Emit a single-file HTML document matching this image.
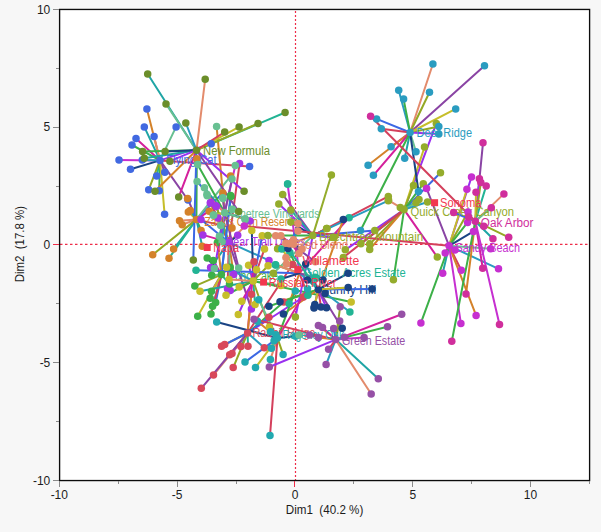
<!DOCTYPE html><html><head><meta charset="utf-8"><title>Dim1 vs Dim2</title>
<style>html,body{margin:0;padding:0;background:#f7f7f7;}body{width:601px;height:532px;overflow:hidden;font-family:"Liberation Sans",sans-serif;}svg{display:block}text{font-family:"Liberation Sans",sans-serif;}.ax{font-size:12px;fill:#1c1c1c}.lb{font-size:12px}</style></head><body>
<svg width="601" height="532" viewBox="0 0 601 532">
<rect x="0" y="0" width="601" height="532" fill="#f7f7f7"/>
<rect x="59.5" y="9.5" width="530" height="471" fill="#ffffff" stroke="none"/>
<g stroke="#ee2c48" stroke-width="1.2"><line x1="295.5" y1="10.9" x2="295.5" y2="480" stroke-dasharray="2 2"/><line x1="60" y1="244.45" x2="589" y2="244.45" stroke-dasharray="2.5 2.5"/></g>
<g class="lb">
<text x="321.0" y="294.2" fill="#1A4384" textLength="55.3" lengthAdjust="spacingAndGlyphs">Sunny Hill</text>
<text x="228.0" y="279.5" fill="#3CB048" textLength="50.0" lengthAdjust="spacingAndGlyphs">Echo Lake</text>
</g>
<g stroke-width="2.00" stroke-linecap="round" fill="none">
<line x1="160.0" y1="160.4" x2="146.9" y2="109.1" stroke="#D4822A"/>
<line x1="160.0" y1="160.4" x2="144.3" y2="126.9" stroke="#1FA5A5"/>
<line x1="160.0" y1="160.4" x2="176.1" y2="126.9" stroke="#68C092"/>
<line x1="160.0" y1="160.4" x2="154.1" y2="136.6" stroke="#E38B6C"/>
<line x1="160.0" y1="160.4" x2="136.0" y2="138.4" stroke="#D4209C"/>
<line x1="160.0" y1="160.4" x2="132.0" y2="145.0" stroke="#3CB048"/>
<line x1="160.0" y1="160.4" x2="119.0" y2="160.0" stroke="#C62FD0"/>
<line x1="160.0" y1="160.4" x2="130.5" y2="169.3" stroke="#1A4384"/>
<line x1="160.0" y1="160.4" x2="142.3" y2="160.0" stroke="#2A9CC0"/>
<line x1="160.0" y1="160.4" x2="164.8" y2="172.2" stroke="#8A44A4"/>
<line x1="160.0" y1="160.4" x2="156.7" y2="176.1" stroke="#22B494"/>
<line x1="160.0" y1="160.4" x2="148.7" y2="189.7" stroke="#94A824"/>
<line x1="160.0" y1="160.4" x2="159.2" y2="190.8" stroke="#3CB048"/>
<line x1="160.0" y1="160.4" x2="164.6" y2="214.2" stroke="#C6BE2A"/>
<line x1="160.0" y1="160.4" x2="211.2" y2="143.8" stroke="#9A30F0"/>
<line x1="160.0" y1="160.4" x2="249.6" y2="166.6" stroke="#D4405C"/>
<line x1="160.0" y1="160.4" x2="188.0" y2="200.0" stroke="#8A44A4"/>
<line x1="196.4" y1="219.4" x2="196.8" y2="158.7" stroke="#3CB048"/>
<line x1="196.4" y1="219.4" x2="187.6" y2="198.4" stroke="#8A44A4"/>
<line x1="196.4" y1="219.4" x2="188.3" y2="211.9" stroke="#C6BE2A"/>
<line x1="196.4" y1="219.4" x2="190.3" y2="210.6" stroke="#1FA5A5"/>
<line x1="196.4" y1="219.4" x2="179.5" y2="220.7" stroke="#E38B6C"/>
<line x1="196.4" y1="219.4" x2="182.2" y2="224.8" stroke="#E38B6C"/>
<line x1="196.4" y1="219.4" x2="209.2" y2="211.2" stroke="#D4209C"/>
<line x1="196.4" y1="219.4" x2="201.1" y2="230.5" stroke="#3CB048"/>
<line x1="196.4" y1="219.4" x2="202.2" y2="246.2" stroke="#1FA5A5"/>
<line x1="196.4" y1="219.4" x2="173.6" y2="249.0" stroke="#1FA5A5"/>
<line x1="196.4" y1="219.4" x2="169.0" y2="258.2" stroke="#22B494"/>
<line x1="196.4" y1="219.4" x2="232.0" y2="227.9" stroke="#D4405C"/>
<line x1="196.4" y1="219.4" x2="222.8" y2="193.0" stroke="#3C68E4"/>
<line x1="196.4" y1="219.4" x2="230.6" y2="176.1" stroke="#68C092"/>
<line x1="196.4" y1="219.4" x2="152.7" y2="254.7" stroke="#94A824"/>
<line x1="228.9" y1="242.4" x2="239.6" y2="163.4" stroke="#D4405C"/>
<line x1="228.9" y1="242.4" x2="210.3" y2="203.0" stroke="#94A824"/>
<line x1="228.9" y1="242.4" x2="216.2" y2="206.4" stroke="#3CB048"/>
<line x1="228.9" y1="242.4" x2="201.0" y2="219.6" stroke="#3C68E4"/>
<line x1="228.9" y1="242.4" x2="218.0" y2="218.0" stroke="#C6BE2A"/>
<line x1="228.9" y1="242.4" x2="250.0" y2="221.0" stroke="#E38B6C"/>
<line x1="228.9" y1="242.4" x2="210.6" y2="202.4" stroke="#D4405C"/>
<line x1="228.9" y1="242.4" x2="216.0" y2="205.8" stroke="#94A824"/>
<line x1="228.9" y1="242.4" x2="202.9" y2="234.9" stroke="#D4209C"/>
<line x1="228.9" y1="242.4" x2="237.7" y2="235.2" stroke="#1A4384"/>
<line x1="228.9" y1="242.4" x2="210.6" y2="267.4" stroke="#1FA5A5"/>
<line x1="228.9" y1="242.4" x2="233.6" y2="274.4" stroke="#D4822A"/>
<line x1="228.9" y1="242.4" x2="227.5" y2="288.8" stroke="#D4405C"/>
<line x1="228.9" y1="242.4" x2="230.2" y2="290.5" stroke="#68C092"/>
<line x1="228.9" y1="242.4" x2="269.0" y2="260.4" stroke="#2A9CC0"/>
<line x1="228.9" y1="242.4" x2="251.4" y2="309.1" stroke="#8A44A4"/>
<line x1="221.4" y1="274.6" x2="230.6" y2="195.6" stroke="#1FA5A5"/>
<line x1="221.4" y1="274.6" x2="230.9" y2="196.4" stroke="#3C68E4"/>
<line x1="221.4" y1="274.6" x2="207.2" y2="258.0" stroke="#1A4384"/>
<line x1="221.4" y1="274.6" x2="213.3" y2="260.4" stroke="#D4209C"/>
<line x1="221.4" y1="274.6" x2="217.4" y2="242.4" stroke="#D4822A"/>
<line x1="221.4" y1="274.6" x2="211.7" y2="275.3" stroke="#68C092"/>
<line x1="221.4" y1="274.6" x2="194.8" y2="286.1" stroke="#94A824"/>
<line x1="221.4" y1="274.6" x2="211.5" y2="291.3" stroke="#8A44A4"/>
<line x1="221.4" y1="274.6" x2="210.2" y2="298.3" stroke="#E38B6C"/>
<line x1="221.4" y1="274.6" x2="215.7" y2="302.4" stroke="#3C68E4"/>
<line x1="221.4" y1="274.6" x2="212.6" y2="306.2" stroke="#2A9CC0"/>
<line x1="221.4" y1="274.6" x2="211.0" y2="313.9" stroke="#D4405C"/>
<line x1="221.4" y1="274.6" x2="197.7" y2="316.3" stroke="#C6BE2A"/>
<line x1="221.4" y1="274.6" x2="230.2" y2="267.2" stroke="#D4209C"/>
<line x1="221.4" y1="274.6" x2="229.5" y2="284.1" stroke="#22B494"/>
<line x1="253.2" y1="281.0" x2="251.8" y2="230.5" stroke="#1A4384"/>
<line x1="253.2" y1="281.0" x2="262.2" y2="235.7" stroke="#3C68E4"/>
<line x1="253.2" y1="281.0" x2="264.5" y2="248.9" stroke="#D4405C"/>
<line x1="253.2" y1="281.0" x2="248.6" y2="265.2" stroke="#9A30F0"/>
<line x1="253.2" y1="281.0" x2="256.5" y2="269.8" stroke="#8A44A4"/>
<line x1="253.2" y1="281.0" x2="268.1" y2="265.7" stroke="#94A824"/>
<line x1="253.2" y1="281.0" x2="200.0" y2="291.3" stroke="#1FA5A5"/>
<line x1="253.2" y1="281.0" x2="226.5" y2="267.3" stroke="#2A9CC0"/>
<line x1="253.2" y1="281.0" x2="229.1" y2="279.4" stroke="#E38B6C"/>
<line x1="253.2" y1="281.0" x2="239.2" y2="287.1" stroke="#D4822A"/>
<line x1="253.2" y1="281.0" x2="226.0" y2="295.2" stroke="#3CB048"/>
<line x1="253.2" y1="281.0" x2="241.8" y2="301.3" stroke="#D4209C"/>
<line x1="253.2" y1="281.0" x2="238.3" y2="314.5" stroke="#9A30F0"/>
<line x1="253.2" y1="281.0" x2="255.1" y2="304.4" stroke="#22B494"/>
<line x1="253.2" y1="281.0" x2="280.8" y2="285.5" stroke="#68C092"/>
<line x1="253.2" y1="281.0" x2="269.4" y2="327.0" stroke="#94A824"/>
<line x1="253.2" y1="281.0" x2="351.2" y2="302.1" stroke="#3CB048"/>
<line x1="224.7" y1="212.8" x2="216.6" y2="126.4" stroke="#D4822A"/>
<line x1="224.7" y1="212.8" x2="197.6" y2="164.6" stroke="#3CB048"/>
<line x1="224.7" y1="212.8" x2="197.1" y2="181.5" stroke="#3C68E4"/>
<line x1="224.7" y1="212.8" x2="204.4" y2="187.8" stroke="#1FA5A5"/>
<line x1="224.7" y1="212.8" x2="206.9" y2="194.2" stroke="#D4209C"/>
<line x1="224.7" y1="212.8" x2="235.3" y2="165.5" stroke="#C62FD0"/>
<line x1="224.7" y1="212.8" x2="232.0" y2="179.0" stroke="#8A44A4"/>
<line x1="224.7" y1="212.8" x2="223.0" y2="198.5" stroke="#C6BE2A"/>
<line x1="224.7" y1="212.8" x2="232.3" y2="209.5" stroke="#3CB048"/>
<line x1="224.7" y1="212.8" x2="213.7" y2="214.9" stroke="#94A824"/>
<line x1="224.7" y1="212.8" x2="245.0" y2="218.8" stroke="#1A4384"/>
<line x1="224.7" y1="212.8" x2="207.2" y2="195.7" stroke="#E38B6C"/>
<line x1="224.7" y1="212.8" x2="222.8" y2="197.7" stroke="#8A44A4"/>
<line x1="224.7" y1="212.8" x2="213.3" y2="215.3" stroke="#C6BE2A"/>
<line x1="224.7" y1="212.8" x2="232.2" y2="209.2" stroke="#D4822A"/>
<line x1="224.7" y1="212.8" x2="220.7" y2="225.4" stroke="#E38B6C"/>
<line x1="224.7" y1="212.8" x2="219.4" y2="236.3" stroke="#22B494"/>
<line x1="224.7" y1="212.8" x2="222.1" y2="241.7" stroke="#2A9CC0"/>
<line x1="224.7" y1="212.8" x2="245.1" y2="219.4" stroke="#68C092"/>
<line x1="224.7" y1="212.8" x2="214.4" y2="268.5" stroke="#9A30F0"/>
<line x1="224.7" y1="212.8" x2="238.7" y2="268.1" stroke="#8A44A4"/>
<line x1="196.5" y1="150.2" x2="147.7" y2="74.0" stroke="#1FA5A5"/>
<line x1="196.5" y1="150.2" x2="166.0" y2="103.9" stroke="#68C092"/>
<line x1="196.5" y1="150.2" x2="185.8" y2="123.0" stroke="#2A9CC0"/>
<line x1="196.5" y1="150.2" x2="205.2" y2="79.2" stroke="#E38B6C"/>
<line x1="196.5" y1="150.2" x2="285.1" y2="112.5" stroke="#22B494"/>
<line x1="196.5" y1="150.2" x2="258.0" y2="123.5" stroke="#94A824"/>
<line x1="196.5" y1="150.2" x2="239.1" y2="126.9" stroke="#C6BE2A"/>
<line x1="196.5" y1="150.2" x2="224.7" y2="132.0" stroke="#D4405C"/>
<line x1="196.5" y1="150.2" x2="142.6" y2="151.4" stroke="#3CB048"/>
<line x1="196.5" y1="150.2" x2="144.3" y2="158.2" stroke="#1FA5A5"/>
<line x1="196.5" y1="150.2" x2="165.1" y2="151.4" stroke="#1A4384"/>
<line x1="196.5" y1="150.2" x2="169.9" y2="161.2" stroke="#9A30F0"/>
<line x1="196.5" y1="150.2" x2="155.0" y2="191.3" stroke="#D4822A"/>
<line x1="196.5" y1="150.2" x2="178.7" y2="197.1" stroke="#D4209C"/>
<line x1="196.5" y1="150.2" x2="244.1" y2="191.2" stroke="#9A30F0"/>
<line x1="196.5" y1="150.2" x2="193.3" y2="260.1" stroke="#3C68E4"/>
<line x1="196.5" y1="150.2" x2="238.7" y2="211.6" stroke="#8A44A4"/>
<line x1="312.8" y1="235.6" x2="282.7" y2="194.5" stroke="#8A44A4"/>
<line x1="312.8" y1="235.6" x2="278.8" y2="204.1" stroke="#9A30F0"/>
<line x1="312.8" y1="235.6" x2="290.8" y2="209.9" stroke="#1FA5A5"/>
<line x1="312.8" y1="235.6" x2="290.8" y2="222.1" stroke="#1A4384"/>
<line x1="312.8" y1="235.6" x2="267.9" y2="235.6" stroke="#3CB048"/>
<line x1="312.8" y1="235.6" x2="277.6" y2="248.8" stroke="#D4822A"/>
<line x1="312.8" y1="235.6" x2="326.6" y2="228.5" stroke="#E38B6C"/>
<line x1="312.8" y1="235.6" x2="333.9" y2="237.3" stroke="#3C68E4"/>
<line x1="312.8" y1="235.6" x2="327.0" y2="228.6" stroke="#1A4384"/>
<line x1="312.8" y1="235.6" x2="333.1" y2="237.6" stroke="#9A30F0"/>
<line x1="312.8" y1="235.6" x2="374.8" y2="230.5" stroke="#3C68E4"/>
<line x1="312.8" y1="235.6" x2="388.3" y2="196.4" stroke="#D4405C"/>
<line x1="312.8" y1="235.6" x2="388.3" y2="200.7" stroke="#2A9CC0"/>
<line x1="312.8" y1="235.6" x2="331.4" y2="175.0" stroke="#94AC2C"/>
<line x1="312.8" y1="235.6" x2="273.3" y2="273.3" stroke="#68C092"/>
<line x1="312.8" y1="235.6" x2="295.4" y2="317.1" stroke="#9A30F0"/>
<line x1="404.1" y1="209.6" x2="436.3" y2="123.6" stroke="#9A30F0"/>
<line x1="404.1" y1="209.6" x2="424.5" y2="147.0" stroke="#C6BE2A"/>
<line x1="404.1" y1="209.6" x2="440.5" y2="172.7" stroke="#3C68E4"/>
<line x1="404.1" y1="209.6" x2="413.5" y2="185.6" stroke="#94A824"/>
<line x1="404.1" y1="209.6" x2="423.3" y2="183.7" stroke="#3CB048"/>
<line x1="404.1" y1="209.6" x2="419.0" y2="199.5" stroke="#1FA5A5"/>
<line x1="404.1" y1="209.6" x2="416.0" y2="202.8" stroke="#68C092"/>
<line x1="404.1" y1="209.6" x2="427.5" y2="202.0" stroke="#2A9CC0"/>
<line x1="404.1" y1="209.6" x2="400.3" y2="207.4" stroke="#22B494"/>
<line x1="404.1" y1="209.6" x2="388.6" y2="200.3" stroke="#E38B6C"/>
<line x1="404.1" y1="209.6" x2="437.3" y2="257.1" stroke="#D4209C"/>
<line x1="404.1" y1="209.6" x2="345.3" y2="249.8" stroke="#9A30F0"/>
<line x1="404.1" y1="209.6" x2="369.7" y2="244.0" stroke="#94A824"/>
<line x1="404.1" y1="209.6" x2="369.7" y2="249.4" stroke="#D4822A"/>
<line x1="404.1" y1="209.6" x2="360.9" y2="243.7" stroke="#3CB048"/>
<line x1="404.1" y1="209.6" x2="343.3" y2="257.5" stroke="#D4405C"/>
<line x1="404.1" y1="209.6" x2="393.4" y2="279.8" stroke="#3CB048"/>
<line x1="410.1" y1="132.5" x2="432.9" y2="64.0" stroke="#E38B6C"/>
<line x1="410.1" y1="132.5" x2="398.7" y2="90.3" stroke="#2A9CC0"/>
<line x1="410.1" y1="132.5" x2="403.6" y2="99.1" stroke="#3CB048"/>
<line x1="410.1" y1="132.5" x2="429.5" y2="92.3" stroke="#94A824"/>
<line x1="410.1" y1="132.5" x2="376.6" y2="118.9" stroke="#3C68E4"/>
<line x1="410.1" y1="132.5" x2="381.3" y2="128.7" stroke="#D4405C"/>
<line x1="410.1" y1="132.5" x2="438.8" y2="126.5" stroke="#94A824"/>
<line x1="410.1" y1="132.5" x2="438.8" y2="134.1" stroke="#9A30F0"/>
<line x1="410.1" y1="132.5" x2="484.5" y2="65.7" stroke="#8A44A4"/>
<line x1="410.1" y1="132.5" x2="455.7" y2="108.9" stroke="#C6BE2A"/>
<line x1="410.1" y1="132.5" x2="391.1" y2="146.7" stroke="#D4209C"/>
<line x1="410.1" y1="132.5" x2="368.1" y2="165.3" stroke="#D4822A"/>
<line x1="410.1" y1="132.5" x2="373.4" y2="175.3" stroke="#D4209C"/>
<line x1="410.1" y1="132.5" x2="404.7" y2="158.3" stroke="#1FA5A5"/>
<line x1="410.1" y1="132.5" x2="416.0" y2="151.7" stroke="#68C092"/>
<line x1="410.1" y1="132.5" x2="418.5" y2="191.5" stroke="#1A4384"/>
<line x1="410.1" y1="132.5" x2="360.5" y2="230.5" stroke="#3CB048"/>
<line x1="449.1" y1="245.8" x2="471.5" y2="177.1" stroke="#9A30F0"/>
<line x1="449.1" y1="245.8" x2="466.9" y2="189.3" stroke="#C6BE2A"/>
<line x1="449.1" y1="245.8" x2="426.6" y2="188.5" stroke="#8A44A4"/>
<line x1="449.1" y1="245.8" x2="468.0" y2="212.0" stroke="#94A824"/>
<line x1="449.1" y1="245.8" x2="467.6" y2="222.4" stroke="#3CB048"/>
<line x1="449.1" y1="245.8" x2="473.5" y2="231.4" stroke="#1A4384"/>
<line x1="449.1" y1="245.8" x2="490.6" y2="248.8" stroke="#68C092"/>
<line x1="449.1" y1="245.8" x2="455.0" y2="250.0" stroke="#1FA5A5"/>
<line x1="449.1" y1="245.8" x2="445.2" y2="252.9" stroke="#D4405C"/>
<line x1="449.1" y1="245.8" x2="498.5" y2="268.8" stroke="#2A9CC0"/>
<line x1="449.1" y1="245.8" x2="461.3" y2="270.3" stroke="#D4405C"/>
<line x1="449.1" y1="245.8" x2="442.7" y2="273.2" stroke="#1FA5A5"/>
<line x1="449.1" y1="245.8" x2="476.1" y2="315.4" stroke="#D4822A"/>
<line x1="449.1" y1="245.8" x2="420.9" y2="322.9" stroke="#3CB048"/>
<line x1="449.1" y1="245.8" x2="460.9" y2="323.6" stroke="#C62FD0"/>
<line x1="449.1" y1="245.8" x2="244.2" y2="226.1" stroke="#D4405C"/>
<line x1="475.3" y1="221.2" x2="370.6" y2="116.3" stroke="#D4405C"/>
<line x1="475.3" y1="221.2" x2="483.0" y2="142.8" stroke="#8A44A4"/>
<line x1="475.3" y1="221.2" x2="479.4" y2="178.8" stroke="#9A30F0"/>
<line x1="475.3" y1="221.2" x2="480.8" y2="182.5" stroke="#94A824"/>
<line x1="475.3" y1="221.2" x2="486.2" y2="185.9" stroke="#22B494"/>
<line x1="475.3" y1="221.2" x2="476.0" y2="192.3" stroke="#C6BE2A"/>
<line x1="475.3" y1="221.2" x2="503.9" y2="193.9" stroke="#E38B6C"/>
<line x1="475.3" y1="221.2" x2="491.3" y2="207.8" stroke="#68C092"/>
<line x1="475.3" y1="221.2" x2="453.7" y2="212.5" stroke="#3C68E4"/>
<line x1="475.3" y1="221.2" x2="468.6" y2="217.0" stroke="#94A824"/>
<line x1="475.3" y1="221.2" x2="483.8" y2="226.3" stroke="#2A9CC0"/>
<line x1="475.3" y1="221.2" x2="492.9" y2="238.7" stroke="#1FA5A5"/>
<line x1="475.3" y1="221.2" x2="508.7" y2="237.3" stroke="#94A824"/>
<line x1="475.3" y1="221.2" x2="482.7" y2="268.2" stroke="#D4209C"/>
<line x1="475.3" y1="221.2" x2="466.0" y2="294.1" stroke="#D4822A"/>
<line x1="475.3" y1="221.2" x2="499.5" y2="324.6" stroke="#C62FD0"/>
<line x1="475.3" y1="221.2" x2="451.8" y2="341.2" stroke="#3CB048"/>
<line x1="247.6" y1="333.0" x2="221.6" y2="346.2" stroke="#94A824"/>
<line x1="247.6" y1="333.0" x2="224.7" y2="344.6" stroke="#3C68E4"/>
<line x1="247.6" y1="333.0" x2="229.7" y2="354.8" stroke="#E38B6C"/>
<line x1="247.6" y1="333.0" x2="232.0" y2="353.5" stroke="#D4209C"/>
<line x1="247.6" y1="333.0" x2="240.9" y2="346.6" stroke="#1FA5A5"/>
<line x1="247.6" y1="333.0" x2="248.0" y2="346.2" stroke="#22B494"/>
<line x1="247.6" y1="333.0" x2="233.2" y2="367.6" stroke="#94A824"/>
<line x1="247.6" y1="333.0" x2="213.5" y2="375.1" stroke="#E38B6C"/>
<line x1="247.6" y1="333.0" x2="201.3" y2="388.3" stroke="#8A44A4"/>
<line x1="247.6" y1="333.0" x2="264.3" y2="347.7" stroke="#2A9CC0"/>
<line x1="247.6" y1="333.0" x2="254.0" y2="261.8" stroke="#D4209C"/>
<line x1="247.6" y1="333.0" x2="292.6" y2="264.5" stroke="#D4405C"/>
<line x1="247.6" y1="333.0" x2="251.4" y2="294.2" stroke="#D4822A"/>
<line x1="247.6" y1="333.0" x2="283.8" y2="302.1" stroke="#3CB048"/>
<line x1="247.6" y1="333.0" x2="303.5" y2="297.0" stroke="#9A30F0"/>
<line x1="247.6" y1="333.0" x2="268.9" y2="317.2" stroke="#3C68E4"/>
<line x1="299.3" y1="273.2" x2="287.6" y2="184.0" stroke="#C62FD0"/>
<line x1="299.3" y1="273.2" x2="196.0" y2="270.2" stroke="#3C68E4"/>
<line x1="299.3" y1="273.2" x2="275.4" y2="264.7" stroke="#94A824"/>
<line x1="299.3" y1="273.2" x2="307.9" y2="295.2" stroke="#D4405C"/>
<line x1="299.3" y1="273.2" x2="289.2" y2="303.7" stroke="#D4822A"/>
<line x1="299.3" y1="273.2" x2="315.0" y2="277.3" stroke="#68C092"/>
<line x1="299.3" y1="273.2" x2="349.1" y2="217.7" stroke="#D4209C"/>
<line x1="299.3" y1="273.2" x2="349.9" y2="312.0" stroke="#2A9CC0"/>
<line x1="299.3" y1="273.2" x2="281.8" y2="248.9" stroke="#C6BE2A"/>
<line x1="299.3" y1="273.2" x2="275.7" y2="265.1" stroke="#E38B6C"/>
<line x1="299.3" y1="273.2" x2="316.5" y2="278.1" stroke="#8A44A4"/>
<line x1="299.3" y1="273.2" x2="289.9" y2="252.5" stroke="#3CB048"/>
<line x1="299.3" y1="273.2" x2="281.0" y2="279.0" stroke="#1A4384"/>
<line x1="318.3" y1="289.5" x2="343.3" y2="219.4" stroke="#D4822A"/>
<line x1="318.3" y1="289.5" x2="307.5" y2="280.0" stroke="#1FA5A5"/>
<line x1="318.3" y1="289.5" x2="323.0" y2="280.0" stroke="#68C092"/>
<line x1="318.3" y1="289.5" x2="325.1" y2="293.6" stroke="#E38B6C"/>
<line x1="318.3" y1="289.5" x2="280.0" y2="301.7" stroke="#94A824"/>
<line x1="318.3" y1="289.5" x2="268.9" y2="306.2" stroke="#3CB048"/>
<line x1="318.3" y1="289.5" x2="314.3" y2="307.1" stroke="#E38B6C"/>
<line x1="318.3" y1="289.5" x2="321.0" y2="307.1" stroke="#D4405C"/>
<line x1="318.3" y1="289.5" x2="326.5" y2="307.8" stroke="#9A30F0"/>
<line x1="318.3" y1="289.5" x2="314.0" y2="308.1" stroke="#8A44A4"/>
<line x1="318.3" y1="289.5" x2="314.8" y2="304.5" stroke="#C6BE2A"/>
<line x1="318.3" y1="289.5" x2="342.2" y2="328.2" stroke="#8A44A4"/>
<line x1="318.3" y1="289.5" x2="372.1" y2="289.1" stroke="#3C68E4"/>
<line x1="318.3" y1="289.5" x2="348.1" y2="273.3" stroke="#1A4384"/>
<line x1="318.3" y1="289.5" x2="348.2" y2="287.5" stroke="#C6BE2A"/>
<line x1="318.3" y1="289.5" x2="287.9" y2="248.6" stroke="#22B494"/>
<line x1="318.3" y1="289.5" x2="305.7" y2="264.1" stroke="#2A9CC0"/>
<line x1="318.3" y1="289.5" x2="283.4" y2="314.0" stroke="#D4822A"/>
<line x1="277.5" y1="338.1" x2="245.0" y2="362.1" stroke="#3C68E4"/>
<line x1="277.5" y1="338.1" x2="255.5" y2="367.6" stroke="#C6BE2A"/>
<line x1="277.5" y1="338.1" x2="271.4" y2="348.3" stroke="#68C092"/>
<line x1="277.5" y1="338.1" x2="270.4" y2="359.4" stroke="#E38B6C"/>
<line x1="277.5" y1="338.1" x2="283.1" y2="354.4" stroke="#94A824"/>
<line x1="277.5" y1="338.1" x2="270.0" y2="435.6" stroke="#D4405C"/>
<line x1="277.5" y1="338.1" x2="216.7" y2="322.0" stroke="#1A4384"/>
<line x1="277.5" y1="338.1" x2="295.3" y2="290.9" stroke="#3CB048"/>
<line x1="277.5" y1="338.1" x2="258.8" y2="299.7" stroke="#68C092"/>
<line x1="277.5" y1="338.1" x2="307.5" y2="288.8" stroke="#D4209C"/>
<line x1="277.5" y1="338.1" x2="257.4" y2="321.3" stroke="#D4822A"/>
<line x1="277.5" y1="338.1" x2="295.6" y2="336.3" stroke="#1A4384"/>
<line x1="277.5" y1="338.1" x2="270.5" y2="331.8" stroke="#9A30F0"/>
<line x1="277.5" y1="338.1" x2="275.9" y2="334.8" stroke="#2A9CC0"/>
<line x1="277.5" y1="338.1" x2="274.1" y2="340.7" stroke="#22B494"/>
<line x1="335.7" y1="339.6" x2="401.7" y2="314.2" stroke="#D4209C"/>
<line x1="335.7" y1="339.6" x2="387.5" y2="326.8" stroke="#3CB048"/>
<line x1="335.7" y1="339.6" x2="364.1" y2="337.6" stroke="#C62FD0"/>
<line x1="335.7" y1="339.6" x2="344.4" y2="337.2" stroke="#1FA5A5"/>
<line x1="335.7" y1="339.6" x2="378.3" y2="378.8" stroke="#1FA5A5"/>
<line x1="335.7" y1="339.6" x2="371.2" y2="394.0" stroke="#E38B6C"/>
<line x1="335.7" y1="339.6" x2="326.1" y2="364.6" stroke="#2A9CC0"/>
<line x1="335.7" y1="339.6" x2="328.6" y2="349.3" stroke="#D4405C"/>
<line x1="335.7" y1="339.6" x2="340.2" y2="306.7" stroke="#94A824"/>
<line x1="335.7" y1="339.6" x2="339.7" y2="320.9" stroke="#94A824"/>
<line x1="335.7" y1="339.6" x2="333.7" y2="328.4" stroke="#3C68E4"/>
<line x1="335.7" y1="339.6" x2="318.4" y2="325.4" stroke="#C6BE2A"/>
<line x1="335.7" y1="339.6" x2="322.5" y2="327.4" stroke="#D4209C"/>
<line x1="335.7" y1="339.6" x2="309.7" y2="334.9" stroke="#D4405C"/>
<line x1="335.7" y1="339.6" x2="318.4" y2="337.6" stroke="#D4822A"/>
<line x1="335.7" y1="339.6" x2="269.3" y2="367.0" stroke="#9A30F0"/>
<line x1="335.7" y1="339.6" x2="254.0" y2="319.3" stroke="#D4405C"/>
<line x1="291.0" y1="243.6" x2="298.0" y2="223.5" stroke="#3C68E4"/>
<line x1="291.0" y1="243.6" x2="298.0" y2="231.1" stroke="#1FA5A5"/>
<line x1="291.0" y1="243.6" x2="275.7" y2="235.7" stroke="#3CB048"/>
<line x1="291.0" y1="243.6" x2="280.8" y2="235.7" stroke="#D4405C"/>
<line x1="291.0" y1="243.6" x2="293.5" y2="239.8" stroke="#3CB048"/>
<line x1="291.0" y1="243.6" x2="285.9" y2="243.3" stroke="#E38B6C"/>
<line x1="291.0" y1="243.6" x2="289.4" y2="243.8" stroke="#8A44A4"/>
<line x1="291.0" y1="243.6" x2="293.5" y2="244.3" stroke="#C6BE2A"/>
<line x1="291.0" y1="243.6" x2="302.1" y2="248.9" stroke="#1A4384"/>
<line x1="291.0" y1="243.6" x2="299.0" y2="253.5" stroke="#D4209C"/>
<line x1="291.0" y1="243.6" x2="285.9" y2="257.5" stroke="#68C092"/>
<line x1="291.0" y1="243.6" x2="286.4" y2="264.1" stroke="#D4822A"/>
<line x1="291.0" y1="243.6" x2="315.3" y2="261.8" stroke="#8A44A4"/>
</g>
<g class="lb">
<text x="203.0" y="154.6" fill="#6B8E2A" textLength="67.0" lengthAdjust="spacingAndGlyphs">New Formula</text>
<text x="166.2" y="164.1" fill="#4169E1" textLength="50.4" lengthAdjust="spacingAndGlyphs">Flying Cat</text>
<text x="416.5" y="136.6" fill="#2A9CC0" textLength="55.5" lengthAdjust="spacingAndGlyphs">Deer Ridge</text>
<text x="410.5" y="215.5" fill="#94AC2C" textLength="103.6" lengthAdjust="spacingAndGlyphs">Quick Creek Canyon</text>
<text x="480.8" y="227.0" fill="#D02E9C" textLength="52.7" lengthAdjust="spacingAndGlyphs">Oak Arbor</text>
<text x="455.4" y="251.8" fill="#C62FD0" textLength="64.6" lengthAdjust="spacingAndGlyphs">Sandy Beach</text>
<text x="204.5" y="226.3" fill="#D4822A" textLength="94.5" lengthAdjust="spacingAndGlyphs">Zack's Own Reserve</text>
<text x="230.5" y="218.3" fill="#68C092" textLength="89.0" lengthAdjust="spacingAndGlyphs">Pinetree Vineyards</text>
<text x="226.3" y="246.3" fill="#A435E6" textLength="79.0" lengthAdjust="spacingAndGlyphs">Bear Trail Dunes</text>
<text x="297.0" y="249.0" fill="#E38B6C" textLength="51.0" lengthAdjust="spacingAndGlyphs">Red Blend</text>
<text x="319.0" y="241.2" fill="#94AC2C" textLength="104.3" lengthAdjust="spacingAndGlyphs">Beechtree Mountain</text>
<text x="303.6" y="277.3" fill="#22B494" textLength="102.1" lengthAdjust="spacingAndGlyphs">Golden Acres Estate</text>
<text x="252.4" y="337.4" fill="#D8485A" textLength="63.0" lengthAdjust="spacingAndGlyphs">Rabbit Ridge</text>
<text x="282.4" y="339.0" fill="#22A9B0" textLength="61.6" lengthAdjust="spacingAndGlyphs">Regency Oak</text>
<text x="342.0" y="344.7" fill="#9650A6" textLength="63.1" lengthAdjust="spacingAndGlyphs">Green Estate</text>
</g><g>
<circle cx="146.9" cy="109.1" r="3.75" fill="#4169E1"/>
<circle cx="144.3" cy="126.9" r="3.75" fill="#4169E1"/>
<circle cx="176.1" cy="126.9" r="3.75" fill="#4169E1"/>
<circle cx="154.1" cy="136.6" r="3.75" fill="#4169E1"/>
<circle cx="136.0" cy="138.4" r="3.75" fill="#4169E1"/>
<circle cx="132.0" cy="145.0" r="3.75" fill="#4169E1"/>
<circle cx="119.0" cy="160.0" r="3.75" fill="#4169E1"/>
<circle cx="130.5" cy="169.3" r="3.75" fill="#4169E1"/>
<circle cx="142.3" cy="160.0" r="3.75" fill="#4169E1"/>
<circle cx="164.8" cy="172.2" r="3.75" fill="#4169E1"/>
<circle cx="156.7" cy="176.1" r="3.75" fill="#4169E1"/>
<circle cx="148.7" cy="189.7" r="3.75" fill="#4169E1"/>
<circle cx="159.2" cy="190.8" r="3.75" fill="#4169E1"/>
<circle cx="164.6" cy="214.2" r="3.75" fill="#4169E1"/>
<circle cx="211.2" cy="143.8" r="3.75" fill="#4169E1"/>
<circle cx="249.6" cy="166.6" r="3.75" fill="#4169E1"/>
<circle cx="188.0" cy="200.0" r="3.75" fill="#4169E1"/>
<circle cx="160.0" cy="160.4" r="3.75" fill="#4169E1"/>
<circle cx="196.8" cy="158.7" r="3.75" fill="#D4822A"/>
<circle cx="187.6" cy="198.4" r="3.75" fill="#D4822A"/>
<circle cx="188.3" cy="211.9" r="3.75" fill="#D4822A"/>
<circle cx="190.3" cy="210.6" r="3.75" fill="#D4822A"/>
<circle cx="179.5" cy="220.7" r="3.75" fill="#D4822A"/>
<circle cx="182.2" cy="224.8" r="3.75" fill="#D4822A"/>
<circle cx="209.2" cy="211.2" r="3.75" fill="#D4822A"/>
<circle cx="201.1" cy="230.5" r="3.75" fill="#D4822A"/>
<circle cx="202.2" cy="246.2" r="3.75" fill="#D4822A"/>
<circle cx="173.6" cy="249.0" r="3.75" fill="#D4822A"/>
<circle cx="169.0" cy="258.2" r="3.75" fill="#D4822A"/>
<circle cx="232.0" cy="227.9" r="3.75" fill="#D4822A"/>
<circle cx="222.8" cy="193.0" r="3.75" fill="#D4822A"/>
<circle cx="230.6" cy="176.1" r="3.75" fill="#D4822A"/>
<circle cx="152.7" cy="254.7" r="3.75" fill="#D4822A"/>
<circle cx="196.4" cy="219.4" r="3.75" fill="#D4822A"/>
<circle cx="239.6" cy="163.4" r="3.75" fill="#A435E6"/>
<circle cx="210.3" cy="203.0" r="3.75" fill="#A435E6"/>
<circle cx="216.2" cy="206.4" r="3.75" fill="#A435E6"/>
<circle cx="201.0" cy="219.6" r="3.75" fill="#A435E6"/>
<circle cx="218.0" cy="218.0" r="3.75" fill="#A435E6"/>
<circle cx="250.0" cy="221.0" r="3.75" fill="#A435E6"/>
<circle cx="210.6" cy="202.4" r="3.75" fill="#A435E6"/>
<circle cx="216.0" cy="205.8" r="3.75" fill="#A435E6"/>
<circle cx="202.9" cy="234.9" r="3.75" fill="#A435E6"/>
<circle cx="237.7" cy="235.2" r="3.75" fill="#A435E6"/>
<circle cx="210.6" cy="267.4" r="3.75" fill="#A435E6"/>
<circle cx="233.6" cy="274.4" r="3.75" fill="#A435E6"/>
<circle cx="227.5" cy="288.8" r="3.75" fill="#A435E6"/>
<circle cx="230.2" cy="290.5" r="3.75" fill="#A435E6"/>
<circle cx="269.0" cy="260.4" r="3.75" fill="#A435E6"/>
<circle cx="251.4" cy="309.1" r="3.75" fill="#A435E6"/>
<circle cx="228.9" cy="242.4" r="3.75" fill="#A435E6"/>
<circle cx="230.6" cy="195.6" r="3.75" fill="#3CB048"/>
<circle cx="230.9" cy="196.4" r="3.75" fill="#3CB048"/>
<circle cx="207.2" cy="258.0" r="3.75" fill="#3CB048"/>
<circle cx="213.3" cy="260.4" r="3.75" fill="#3CB048"/>
<circle cx="217.4" cy="242.4" r="3.75" fill="#3CB048"/>
<circle cx="211.7" cy="275.3" r="3.75" fill="#3CB048"/>
<circle cx="194.8" cy="286.1" r="3.75" fill="#3CB048"/>
<circle cx="211.5" cy="291.3" r="3.75" fill="#3CB048"/>
<circle cx="210.2" cy="298.3" r="3.75" fill="#3CB048"/>
<circle cx="215.7" cy="302.4" r="3.75" fill="#3CB048"/>
<circle cx="212.6" cy="306.2" r="3.75" fill="#3CB048"/>
<circle cx="211.0" cy="313.9" r="3.75" fill="#3CB048"/>
<circle cx="197.7" cy="316.3" r="3.75" fill="#3CB048"/>
<circle cx="230.2" cy="267.2" r="3.75" fill="#3CB048"/>
<circle cx="229.5" cy="284.1" r="3.75" fill="#3CB048"/>
<circle cx="221.4" cy="274.6" r="3.75" fill="#3CB048"/>
<circle cx="251.8" cy="230.5" r="3.75" fill="#C6BE2A"/>
<circle cx="262.2" cy="235.7" r="3.75" fill="#C6BE2A"/>
<circle cx="264.5" cy="248.9" r="3.75" fill="#C6BE2A"/>
<circle cx="248.6" cy="265.2" r="3.75" fill="#C6BE2A"/>
<circle cx="256.5" cy="269.8" r="3.75" fill="#C6BE2A"/>
<circle cx="268.1" cy="265.7" r="3.75" fill="#C6BE2A"/>
<circle cx="200.0" cy="291.3" r="3.75" fill="#C6BE2A"/>
<circle cx="226.5" cy="267.3" r="3.75" fill="#C6BE2A"/>
<circle cx="229.1" cy="279.4" r="3.75" fill="#C6BE2A"/>
<circle cx="239.2" cy="287.1" r="3.75" fill="#C6BE2A"/>
<circle cx="226.0" cy="295.2" r="3.75" fill="#C6BE2A"/>
<circle cx="241.8" cy="301.3" r="3.75" fill="#C6BE2A"/>
<circle cx="238.3" cy="314.5" r="3.75" fill="#C6BE2A"/>
<circle cx="255.1" cy="304.4" r="3.75" fill="#C6BE2A"/>
<circle cx="280.8" cy="285.5" r="3.75" fill="#C6BE2A"/>
<circle cx="269.4" cy="327.0" r="3.75" fill="#C6BE2A"/>
<circle cx="351.2" cy="302.1" r="3.75" fill="#C6BE2A"/>
<circle cx="253.2" cy="281.0" r="3.75" fill="#C6BE2A"/>
<circle cx="216.6" cy="126.4" r="3.75" fill="#68C092"/>
<circle cx="197.6" cy="164.6" r="3.75" fill="#68C092"/>
<circle cx="197.1" cy="181.5" r="3.75" fill="#68C092"/>
<circle cx="204.4" cy="187.8" r="3.75" fill="#68C092"/>
<circle cx="206.9" cy="194.2" r="3.75" fill="#68C092"/>
<circle cx="235.3" cy="165.5" r="3.75" fill="#68C092"/>
<circle cx="232.0" cy="179.0" r="3.75" fill="#68C092"/>
<circle cx="223.0" cy="198.5" r="3.75" fill="#68C092"/>
<circle cx="232.3" cy="209.5" r="3.75" fill="#68C092"/>
<circle cx="213.7" cy="214.9" r="3.75" fill="#68C092"/>
<circle cx="245.0" cy="218.8" r="3.75" fill="#68C092"/>
<circle cx="207.2" cy="195.7" r="3.75" fill="#68C092"/>
<circle cx="222.8" cy="197.7" r="3.75" fill="#68C092"/>
<circle cx="213.3" cy="215.3" r="3.75" fill="#68C092"/>
<circle cx="232.2" cy="209.2" r="3.75" fill="#68C092"/>
<circle cx="220.7" cy="225.4" r="3.75" fill="#68C092"/>
<circle cx="219.4" cy="236.3" r="3.75" fill="#68C092"/>
<circle cx="222.1" cy="241.7" r="3.75" fill="#68C092"/>
<circle cx="245.1" cy="219.4" r="3.75" fill="#68C092"/>
<circle cx="214.4" cy="268.5" r="3.75" fill="#68C092"/>
<circle cx="238.7" cy="268.1" r="3.75" fill="#68C092"/>
<circle cx="224.7" cy="212.8" r="3.75" fill="#68C092"/>
<circle cx="147.7" cy="74.0" r="3.75" fill="#6B8E2A"/>
<circle cx="166.0" cy="103.9" r="3.75" fill="#6B8E2A"/>
<circle cx="185.8" cy="123.0" r="3.75" fill="#6B8E2A"/>
<circle cx="205.2" cy="79.2" r="3.75" fill="#6B8E2A"/>
<circle cx="285.1" cy="112.5" r="3.75" fill="#6B8E2A"/>
<circle cx="258.0" cy="123.5" r="3.75" fill="#6B8E2A"/>
<circle cx="239.1" cy="126.9" r="3.75" fill="#6B8E2A"/>
<circle cx="224.7" cy="132.0" r="3.75" fill="#6B8E2A"/>
<circle cx="142.6" cy="151.4" r="3.75" fill="#6B8E2A"/>
<circle cx="144.3" cy="158.2" r="3.75" fill="#6B8E2A"/>
<circle cx="165.1" cy="151.4" r="3.75" fill="#6B8E2A"/>
<circle cx="169.9" cy="161.2" r="3.75" fill="#6B8E2A"/>
<circle cx="155.0" cy="191.3" r="3.75" fill="#6B8E2A"/>
<circle cx="178.7" cy="197.1" r="3.75" fill="#6B8E2A"/>
<circle cx="244.1" cy="191.2" r="3.75" fill="#6B8E2A"/>
<circle cx="193.3" cy="260.1" r="3.75" fill="#6B8E2A"/>
<circle cx="238.7" cy="211.6" r="3.75" fill="#6B8E2A"/>
<circle cx="196.5" cy="150.2" r="3.75" fill="#6B8E2A"/>
<circle cx="282.7" cy="194.5" r="3.75" fill="#94AC2C"/>
<circle cx="278.8" cy="204.1" r="3.75" fill="#94AC2C"/>
<circle cx="290.8" cy="209.9" r="3.75" fill="#94AC2C"/>
<circle cx="290.8" cy="222.1" r="3.75" fill="#94AC2C"/>
<circle cx="267.9" cy="235.6" r="3.75" fill="#94AC2C"/>
<circle cx="277.6" cy="248.8" r="3.75" fill="#94AC2C"/>
<circle cx="326.6" cy="228.5" r="3.75" fill="#94AC2C"/>
<circle cx="333.9" cy="237.3" r="3.75" fill="#94AC2C"/>
<circle cx="327.0" cy="228.6" r="3.75" fill="#94AC2C"/>
<circle cx="333.1" cy="237.6" r="3.75" fill="#94AC2C"/>
<circle cx="374.8" cy="230.5" r="3.75" fill="#94AC2C"/>
<circle cx="388.3" cy="196.4" r="3.75" fill="#94AC2C"/>
<circle cx="388.3" cy="200.7" r="3.75" fill="#94AC2C"/>
<circle cx="331.4" cy="175.0" r="3.75" fill="#94AC2C"/>
<circle cx="273.3" cy="273.3" r="3.75" fill="#94AC2C"/>
<circle cx="295.4" cy="317.1" r="3.75" fill="#94AC2C"/>
<circle cx="312.8" cy="235.6" r="3.75" fill="#94AC2C"/>
<circle cx="287.6" cy="184.0" r="3.75" fill="#22B494"/>
<circle cx="436.3" cy="123.6" r="3.75" fill="#94AC2C"/>
<circle cx="424.5" cy="147.0" r="3.75" fill="#94AC2C"/>
<circle cx="440.5" cy="172.7" r="3.75" fill="#94AC2C"/>
<circle cx="413.5" cy="185.6" r="3.75" fill="#94AC2C"/>
<circle cx="423.3" cy="183.7" r="3.75" fill="#94AC2C"/>
<circle cx="419.0" cy="199.5" r="3.75" fill="#94AC2C"/>
<circle cx="416.0" cy="202.8" r="3.75" fill="#94AC2C"/>
<circle cx="427.5" cy="202.0" r="3.75" fill="#94AC2C"/>
<circle cx="400.3" cy="207.4" r="3.75" fill="#94AC2C"/>
<circle cx="388.6" cy="200.3" r="3.75" fill="#94AC2C"/>
<circle cx="437.3" cy="257.1" r="3.75" fill="#94AC2C"/>
<circle cx="345.3" cy="249.8" r="3.75" fill="#94AC2C"/>
<circle cx="369.7" cy="244.0" r="3.75" fill="#94AC2C"/>
<circle cx="369.7" cy="249.4" r="3.75" fill="#94AC2C"/>
<circle cx="360.9" cy="243.7" r="3.75" fill="#94AC2C"/>
<circle cx="343.3" cy="257.5" r="3.75" fill="#94AC2C"/>
<circle cx="393.4" cy="279.8" r="3.75" fill="#94AC2C"/>
<circle cx="404.1" cy="209.6" r="3.75" fill="#94AC2C"/>
<circle cx="432.9" cy="64.0" r="3.75" fill="#2A9CC0"/>
<circle cx="398.7" cy="90.3" r="3.75" fill="#2A9CC0"/>
<circle cx="403.6" cy="99.1" r="3.75" fill="#2A9CC0"/>
<circle cx="429.5" cy="92.3" r="3.75" fill="#2A9CC0"/>
<circle cx="376.6" cy="118.9" r="3.75" fill="#2A9CC0"/>
<circle cx="381.3" cy="128.7" r="3.75" fill="#2A9CC0"/>
<circle cx="438.8" cy="126.5" r="3.75" fill="#2A9CC0"/>
<circle cx="438.8" cy="134.1" r="3.75" fill="#2A9CC0"/>
<circle cx="484.5" cy="65.7" r="3.75" fill="#2A9CC0"/>
<circle cx="455.7" cy="108.9" r="3.75" fill="#2A9CC0"/>
<circle cx="391.1" cy="146.7" r="3.75" fill="#2A9CC0"/>
<circle cx="368.1" cy="165.3" r="3.75" fill="#2A9CC0"/>
<circle cx="373.4" cy="175.3" r="3.75" fill="#2A9CC0"/>
<circle cx="404.7" cy="158.3" r="3.75" fill="#2A9CC0"/>
<circle cx="416.0" cy="151.7" r="3.75" fill="#2A9CC0"/>
<circle cx="418.5" cy="191.5" r="3.75" fill="#2A9CC0"/>
<circle cx="360.5" cy="230.5" r="3.75" fill="#2A9CC0"/>
<circle cx="410.1" cy="132.5" r="3.75" fill="#2A9CC0"/>
<circle cx="471.5" cy="177.1" r="3.75" fill="#C62FD0"/>
<circle cx="466.9" cy="189.3" r="3.75" fill="#C62FD0"/>
<circle cx="426.6" cy="188.5" r="3.75" fill="#C62FD0"/>
<circle cx="468.0" cy="212.0" r="3.75" fill="#C62FD0"/>
<circle cx="467.6" cy="222.4" r="3.75" fill="#C62FD0"/>
<circle cx="473.5" cy="231.4" r="3.75" fill="#C62FD0"/>
<circle cx="490.6" cy="248.8" r="3.75" fill="#C62FD0"/>
<circle cx="455.0" cy="250.0" r="3.75" fill="#C62FD0"/>
<circle cx="445.2" cy="252.9" r="3.75" fill="#C62FD0"/>
<circle cx="498.5" cy="268.8" r="3.75" fill="#C62FD0"/>
<circle cx="461.3" cy="270.3" r="3.75" fill="#C62FD0"/>
<circle cx="442.7" cy="273.2" r="3.75" fill="#C62FD0"/>
<circle cx="476.1" cy="315.4" r="3.75" fill="#C62FD0"/>
<circle cx="420.9" cy="322.9" r="3.75" fill="#C62FD0"/>
<circle cx="460.9" cy="323.6" r="3.75" fill="#C62FD0"/>
<circle cx="449.1" cy="245.8" r="3.75" fill="#C62FD0"/>
<circle cx="244.2" cy="226.1" r="3.75" fill="#C62FD0"/>
<circle cx="370.6" cy="116.3" r="3.75" fill="#D02E9C"/>
<circle cx="483.0" cy="142.8" r="3.75" fill="#D02E9C"/>
<circle cx="479.4" cy="178.8" r="3.75" fill="#D02E9C"/>
<circle cx="480.8" cy="182.5" r="3.75" fill="#D02E9C"/>
<circle cx="486.2" cy="185.9" r="3.75" fill="#D02E9C"/>
<circle cx="476.0" cy="192.3" r="3.75" fill="#D02E9C"/>
<circle cx="503.9" cy="193.9" r="3.75" fill="#D02E9C"/>
<circle cx="491.3" cy="207.8" r="3.75" fill="#D02E9C"/>
<circle cx="453.7" cy="212.5" r="3.75" fill="#D02E9C"/>
<circle cx="468.6" cy="217.0" r="3.75" fill="#D02E9C"/>
<circle cx="483.8" cy="226.3" r="3.75" fill="#D02E9C"/>
<circle cx="492.9" cy="238.7" r="3.75" fill="#D02E9C"/>
<circle cx="508.7" cy="237.3" r="3.75" fill="#D02E9C"/>
<circle cx="482.7" cy="268.2" r="3.75" fill="#D02E9C"/>
<circle cx="466.0" cy="294.1" r="3.75" fill="#D02E9C"/>
<circle cx="499.5" cy="324.6" r="3.75" fill="#D02E9C"/>
<circle cx="451.8" cy="341.2" r="3.75" fill="#D02E9C"/>
<circle cx="475.3" cy="221.2" r="3.75" fill="#D02E9C"/>
<circle cx="221.6" cy="346.2" r="3.75" fill="#D8485A"/>
<circle cx="224.7" cy="344.6" r="3.75" fill="#D8485A"/>
<circle cx="229.7" cy="354.8" r="3.75" fill="#D8485A"/>
<circle cx="232.0" cy="353.5" r="3.75" fill="#D8485A"/>
<circle cx="240.9" cy="346.6" r="3.75" fill="#D8485A"/>
<circle cx="248.0" cy="346.2" r="3.75" fill="#D8485A"/>
<circle cx="233.2" cy="367.6" r="3.75" fill="#D8485A"/>
<circle cx="213.5" cy="375.1" r="3.75" fill="#D8485A"/>
<circle cx="201.3" cy="388.3" r="3.75" fill="#D8485A"/>
<circle cx="264.3" cy="347.7" r="3.75" fill="#D8485A"/>
<circle cx="254.0" cy="261.8" r="3.75" fill="#D8485A"/>
<circle cx="292.6" cy="264.5" r="3.75" fill="#D8485A"/>
<circle cx="251.4" cy="294.2" r="3.75" fill="#D8485A"/>
<circle cx="283.8" cy="302.1" r="3.75" fill="#D8485A"/>
<circle cx="303.5" cy="297.0" r="3.75" fill="#D8485A"/>
<circle cx="268.9" cy="317.2" r="3.75" fill="#D8485A"/>
<circle cx="247.6" cy="333.0" r="3.75" fill="#D8485A"/>
<circle cx="287.6" cy="184.0" r="3.75" fill="#22B494"/>
<circle cx="196.0" cy="270.2" r="3.75" fill="#22B494"/>
<circle cx="275.4" cy="264.7" r="3.75" fill="#22B494"/>
<circle cx="307.9" cy="295.2" r="3.75" fill="#22B494"/>
<circle cx="289.2" cy="303.7" r="3.75" fill="#22B494"/>
<circle cx="315.0" cy="277.3" r="3.75" fill="#22B494"/>
<circle cx="349.1" cy="217.7" r="3.75" fill="#22B494"/>
<circle cx="349.9" cy="312.0" r="3.75" fill="#22B494"/>
<circle cx="281.8" cy="248.9" r="3.75" fill="#22B494"/>
<circle cx="275.7" cy="265.1" r="3.75" fill="#22B494"/>
<circle cx="316.5" cy="278.1" r="3.75" fill="#22B494"/>
<circle cx="289.9" cy="252.5" r="3.75" fill="#22B494"/>
<circle cx="281.0" cy="279.0" r="3.75" fill="#22B494"/>
<circle cx="343.3" cy="219.4" r="3.75" fill="#1A4384"/>
<circle cx="307.5" cy="280.0" r="3.75" fill="#1A4384"/>
<circle cx="323.0" cy="280.0" r="3.75" fill="#1A4384"/>
<circle cx="325.1" cy="293.6" r="3.75" fill="#1A4384"/>
<circle cx="280.0" cy="301.7" r="3.75" fill="#1A4384"/>
<circle cx="268.9" cy="306.2" r="3.75" fill="#1A4384"/>
<circle cx="314.3" cy="307.1" r="3.75" fill="#1A4384"/>
<circle cx="321.0" cy="307.1" r="3.75" fill="#1A4384"/>
<circle cx="326.5" cy="307.8" r="3.75" fill="#1A4384"/>
<circle cx="314.0" cy="308.1" r="3.75" fill="#1A4384"/>
<circle cx="314.8" cy="304.5" r="3.75" fill="#1A4384"/>
<circle cx="342.2" cy="328.2" r="3.75" fill="#1A4384"/>
<circle cx="372.1" cy="289.1" r="3.75" fill="#1A4384"/>
<circle cx="348.1" cy="273.3" r="3.75" fill="#1A4384"/>
<circle cx="348.2" cy="287.5" r="3.75" fill="#1A4384"/>
<circle cx="287.9" cy="248.6" r="3.75" fill="#1A4384"/>
<circle cx="305.7" cy="264.1" r="3.75" fill="#1A4384"/>
<circle cx="283.4" cy="314.0" r="3.75" fill="#1A4384"/>
<circle cx="318.3" cy="289.5" r="3.75" fill="#1A4384"/>
<circle cx="245.0" cy="362.1" r="3.75" fill="#22A9B0"/>
<circle cx="255.5" cy="367.6" r="3.75" fill="#22A9B0"/>
<circle cx="271.4" cy="348.3" r="3.75" fill="#22A9B0"/>
<circle cx="270.4" cy="359.4" r="3.75" fill="#22A9B0"/>
<circle cx="283.1" cy="354.4" r="3.75" fill="#22A9B0"/>
<circle cx="270.0" cy="435.6" r="3.75" fill="#22A9B0"/>
<circle cx="216.7" cy="322.0" r="3.75" fill="#22A9B0"/>
<circle cx="295.3" cy="290.9" r="3.75" fill="#22A9B0"/>
<circle cx="258.8" cy="299.7" r="3.75" fill="#22A9B0"/>
<circle cx="307.5" cy="288.8" r="3.75" fill="#22A9B0"/>
<circle cx="257.4" cy="321.3" r="3.75" fill="#22A9B0"/>
<circle cx="295.6" cy="336.3" r="3.75" fill="#22A9B0"/>
<circle cx="270.5" cy="331.8" r="3.75" fill="#22A9B0"/>
<circle cx="275.9" cy="334.8" r="3.75" fill="#22A9B0"/>
<circle cx="274.1" cy="340.7" r="3.75" fill="#22A9B0"/>
<circle cx="277.5" cy="338.1" r="3.75" fill="#22A9B0"/>
<circle cx="299.0" cy="335.0" r="3.75" fill="#68C092"/>
<circle cx="401.7" cy="314.2" r="3.75" fill="#9650A6"/>
<circle cx="387.5" cy="326.8" r="3.75" fill="#9650A6"/>
<circle cx="364.1" cy="337.6" r="3.75" fill="#9650A6"/>
<circle cx="344.4" cy="337.2" r="3.75" fill="#9650A6"/>
<circle cx="378.3" cy="378.8" r="3.75" fill="#9650A6"/>
<circle cx="371.2" cy="394.0" r="3.75" fill="#9650A6"/>
<circle cx="326.1" cy="364.6" r="3.75" fill="#9650A6"/>
<circle cx="328.6" cy="349.3" r="3.75" fill="#9650A6"/>
<circle cx="340.2" cy="306.7" r="3.75" fill="#9650A6"/>
<circle cx="339.7" cy="320.9" r="3.75" fill="#9650A6"/>
<circle cx="333.7" cy="328.4" r="3.75" fill="#9650A6"/>
<circle cx="318.4" cy="325.4" r="3.75" fill="#9650A6"/>
<circle cx="322.5" cy="327.4" r="3.75" fill="#9650A6"/>
<circle cx="309.7" cy="334.9" r="3.75" fill="#9650A6"/>
<circle cx="318.4" cy="337.6" r="3.75" fill="#9650A6"/>
<circle cx="269.3" cy="367.0" r="3.75" fill="#9650A6"/>
<circle cx="254.0" cy="319.3" r="3.75" fill="#9650A6"/>
<circle cx="335.7" cy="339.6" r="3.75" fill="#9650A6"/>
<circle cx="298.0" cy="223.5" r="3.75" fill="#E38B6C"/>
<circle cx="298.0" cy="231.1" r="3.75" fill="#E38B6C"/>
<circle cx="275.7" cy="235.7" r="3.75" fill="#E38B6C"/>
<circle cx="280.8" cy="235.7" r="3.75" fill="#E38B6C"/>
<circle cx="293.5" cy="239.8" r="3.75" fill="#E38B6C"/>
<circle cx="285.9" cy="243.3" r="3.75" fill="#E38B6C"/>
<circle cx="289.4" cy="243.8" r="3.75" fill="#E38B6C"/>
<circle cx="293.5" cy="244.3" r="3.75" fill="#E38B6C"/>
<circle cx="302.1" cy="248.9" r="3.75" fill="#E38B6C"/>
<circle cx="299.0" cy="253.5" r="3.75" fill="#E38B6C"/>
<circle cx="285.9" cy="257.5" r="3.75" fill="#E38B6C"/>
<circle cx="286.4" cy="264.1" r="3.75" fill="#E38B6C"/>
<circle cx="315.3" cy="261.8" r="3.75" fill="#E38B6C"/>
<circle cx="291.0" cy="243.6" r="3.75" fill="#E38B6C"/>
<rect x="203.7" y="244.0" width="7" height="7" fill="#F2384F"/>
<rect x="294.3" y="266.1" width="7" height="7" fill="#F2384F"/>
<rect x="260.1" y="278.6" width="7" height="7" fill="#F2384F"/>
<rect x="431.1" y="199.2" width="7" height="7" fill="#F2384F"/>
</g><g class="lb">
<text x="440.0" y="207.1" fill="#F2384F" textLength="41.5" lengthAdjust="spacingAndGlyphs">Sonoma</text>
<text x="213.3" y="251.6" fill="#F2384F" textLength="25.8" lengthAdjust="spacingAndGlyphs">Napa</text>
<text x="302.5" y="264.7" fill="#F2384F" textLength="56.7" lengthAdjust="spacingAndGlyphs">Willamette</text>
<text x="268.8" y="287.0" fill="#F2384F" textLength="67.5" lengthAdjust="spacingAndGlyphs">Russian River</text>
</g>
<g stroke="#0c0c0c" stroke-width="1.35" fill="none"><rect x="59.6" y="9.45" width="530" height="471.1"/></g>
<g stroke="#8a8a8a" stroke-width="1" shape-rendering="crispEdges">
<line x1="59.5" y1="481" x2="59.5" y2="487"/>
<line x1="53" y1="480.5" x2="59" y2="480.5"/>
<line x1="177.5" y1="481" x2="177.5" y2="487"/>
<line x1="53" y1="362.5" x2="59" y2="362.5"/>
<line x1="294.5" y1="481" x2="294.5" y2="487" stroke="#ee2c48"/>
<line x1="53" y1="244.5" x2="59" y2="244.5" stroke="#ee2c48"/>
<line x1="412.5" y1="481" x2="412.5" y2="487"/>
<line x1="53" y1="127.5" x2="59" y2="127.5"/>
<line x1="530.5" y1="481" x2="530.5" y2="487"/>
<line x1="53" y1="9.5" x2="59" y2="9.5"/>
<line x1="118.5" y1="481" x2="118.5" y2="484"/>
<line x1="236.5" y1="481" x2="236.5" y2="484"/>
<line x1="353.5" y1="481" x2="353.5" y2="484"/>
<line x1="471.5" y1="481" x2="471.5" y2="484"/>
<line x1="589.5" y1="481" x2="589.5" y2="484"/>
<line x1="56" y1="421.5" x2="59" y2="421.5"/>
<line x1="56" y1="303.5" x2="59" y2="303.5"/>
<line x1="56" y1="186.5" x2="59" y2="186.5"/>
<line x1="56" y1="68.5" x2="59" y2="68.5"/>
</g>
<g class="ax">
<text x="59.3" y="498.6" text-anchor="middle">-10</text>
<text x="50.3" y="484.6" text-anchor="end">-10</text>
<text x="177.1" y="498.6" text-anchor="middle">-5</text>
<text x="50.3" y="366.9" text-anchor="end">-5</text>
<text x="295.0" y="498.6" text-anchor="middle">0</text>
<text x="50.3" y="249.1" text-anchor="end">0</text>
<text x="412.8" y="498.6" text-anchor="middle">5</text>
<text x="50.3" y="131.3" text-anchor="end">5</text>
<text x="530.5" y="498.6" text-anchor="middle">10</text>
<text x="50.3" y="13.6" text-anchor="end">10</text>
<text x="285.8" y="514.4" textLength="77.5" lengthAdjust="spacingAndGlyphs" xml:space="preserve">Dim1  (40.2 %)</text>
<text transform="translate(24,282.2) rotate(-90)" textLength="76.2" lengthAdjust="spacingAndGlyphs" xml:space="preserve">Dim2  (17.8 %)</text>
</g></svg></body></html>
